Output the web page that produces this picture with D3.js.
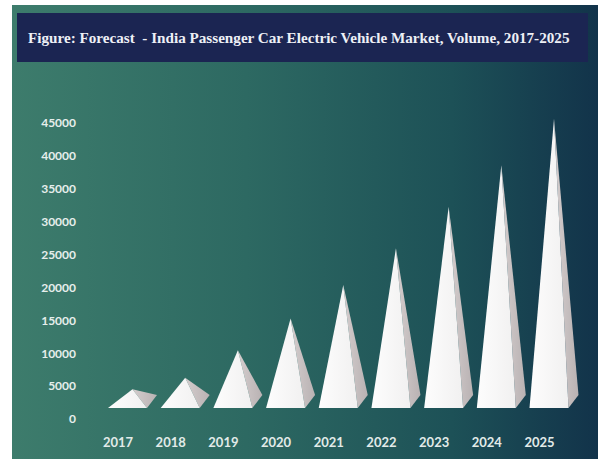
<!DOCTYPE html>
<html>
<head>
<meta charset="utf-8">
<script src="https://cdn.jsdelivr.net/npm/d3@7"></script>
<style>
  html, body { margin: 0; padding: 0; background: #ffffff; }
  svg { display: block; }
</style>
</head>
<body>
<svg id="chart" width="600" height="459"></svg>
<script>
// India passenger car EV market, forecast volume by year
const years = ["2017", "2018", "2019", "2020", "2021", "2022", "2023", "2024", "2025"];
const volumes = [1850, 3600, 7800, 12600, 17700, 23300, 29600, 35900, 43000];
const yTicks = [0, 5000, 10000, 15000, 20000, 25000, 30000, 35000, 40000, 45000];
const titleText = "Figure: Forecast  - India Passenger Car Electric Vehicle Market, Volume, 2017-2025";

const svg = d3.select("#chart");
const defs = svg.append("defs");

// panel background: teal fading to dark petrol on the right
const bg = defs.append("linearGradient").attr("id", "bgGrad")
  .attr("x1", "0%").attr("y1", "0%").attr("x2", "100%").attr("y2", "0%");
bg.append("stop").attr("offset", "0%").attr("stop-color", "#3d7c6c");
bg.append("stop").attr("offset", "40%").attr("stop-color", "#2d6962");
bg.append("stop").attr("offset", "75%").attr("stop-color", "#1d5157");
bg.append("stop").attr("offset", "100%").attr("stop-color", "#12334a");

const frontGrad = defs.append("linearGradient").attr("id", "frontGrad")
  .attr("x1", "0%").attr("y1", "0%").attr("x2", "100%").attr("y2", "0%");
frontGrad.append("stop").attr("offset", "0%").attr("stop-color", "#fdfdfd");
frontGrad.append("stop").attr("offset", "100%").attr("stop-color", "#f1f0f0");

const sideGrad = defs.append("linearGradient").attr("id", "sideGrad")
  .attr("x1", "0%").attr("y1", "0%").attr("x2", "100%").attr("y2", "0%");
sideGrad.append("stop").attr("offset", "0%").attr("stop-color", "#d4cdcd");
sideGrad.append("stop").attr("offset", "100%").attr("stop-color", "#b9b2b3");

svg.append("rect")
  .attr("x", 12).attr("y", 5).attr("width", 586).attr("height", 454)
  .attr("fill", "url(#bgGrad)");

// title banner
svg.append("rect")
  .attr("x", 17).attr("y", 13).attr("width", 571).attr("height", 49)
  .attr("fill", "#1b2552");
const title = svg.append("text")
  .attr("x", 28).attr("y", 43)
  .style("white-space", "pre")
  .attr("font-family", "'Liberation Serif', 'DejaVu Serif', serif")
  .attr("font-weight", "bold")
  .attr("font-size", 17)
  .attr("fill", "#eef0f6")
  .text(titleText);
// size the title so it spans the banner width
const natural = title.node().getComputedTextLength();
title.attr("font-size", (17 * 542 / natural).toFixed(2));

// scales
const y = d3.scaleLinear().domain([0, 45000]).range([419, 123]);
const x = d3.scalePoint().domain(years).range([117.5, 539]);

// y axis labels (no line, no ticks)
const yAxis = svg.append("g")
  .attr("transform", "translate(79,0)")
  .call(d3.axisLeft(y).tickValues(yTicks).tickSize(0).tickPadding(3).tickFormat(d3.format("d")));
yAxis.select(".domain").remove();
yAxis.selectAll("text")
  .attr("font-family", "Lato, 'Open Sans', sans-serif")
  .attr("font-weight", "bold")
  .attr("font-size", 12)
  .attr("fill", "#e6eeec");

// x axis labels
const xAxis = svg.append("g")
  .attr("transform", "translate(0,442)")
  .call(d3.axisBottom(x).tickSize(0).tickPadding(0));
xAxis.select(".domain").remove();
xAxis.selectAll("text")
  .attr("y", 0).attr("dy", "0.36em")
  .attr("font-family", "Lato, 'Open Sans', sans-serif")
  .attr("font-weight", "bold")
  .attr("font-size", 13)
  .attr("fill", "#e2ebe9");

// pyramids drawn in an oblique view: square base seen from above-right
const halfW = 19.5;              // half of the front base edge
const depth = { dx: 10, dy: -13 }; // front-to-back offset of the base
const frontY = y(0) - 11;        // front edge of the floor
const offsetX = 10;              // pyramids sit slightly right of the labels

const pyr = svg.append("g").selectAll("g")
  .data(years.map((yr, i) => ({ yr, v: volumes[i] })))
  .join("g");

function geom(d) {
  const xc = x(d.yr) + offsetX;
  const fl = [xc - halfW, frontY];
  const fr = [xc + halfW, frontY];
  const br = [xc + halfW + depth.dx, frontY + depth.dy];
  const cx = xc + depth.dx / 2;
  const cy = frontY + depth.dy / 2;
  const apex = [cx, cy - (y(0) - y(d.v))];
  return { fl, fr, br, apex };
}

pyr.append("polygon")
  .attr("points", d => { const g = geom(d); return [g.fr, g.br, g.apex].map(p => p.join(",")).join(" "); })
  .attr("fill", "url(#sideGrad)");

pyr.append("polygon")
  .attr("points", d => { const g = geom(d); return [g.fl, g.fr, g.apex].map(p => p.join(",")).join(" "); })
  .attr("fill", "url(#frontGrad)");
</script>
</body>
</html>
